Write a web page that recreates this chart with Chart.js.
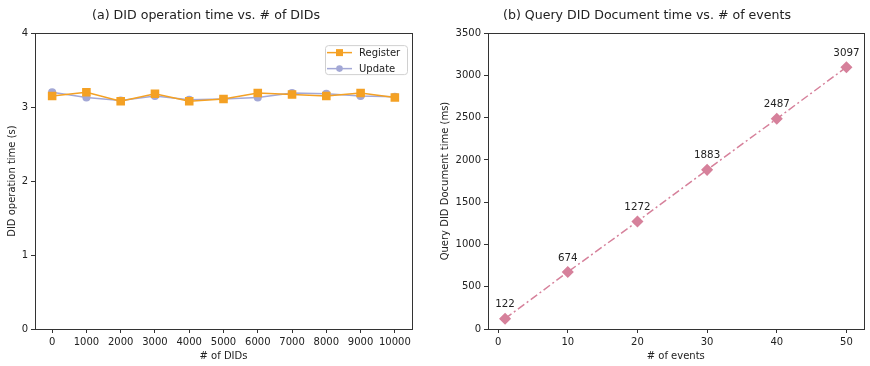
<!DOCTYPE html>
<html>
<head>
<meta charset="utf-8">
<script src="https://cdn.jsdelivr.net/npm/chart.js@4.4.1/dist/chart.umd.min.js"></script>
<style>
  body { margin: 0; background: #fff; }
  .box { position: absolute; top: 0; height: 366px; }
  #left { left: 0; width: 430px; }
  #right { left: 430px; width: 440px; }
</style>
</head>
<body>
<div class="box" id="left"><canvas id="didChart"></canvas></div>
<div class="box" id="right"><canvas id="queryChart"></canvas></div>
<script>
// (a) DID operation time
const didCounts = [0, 1000, 2000, 3000, 4000, 5000, 6000, 7000, 8000, 9000, 10000];
const registerTime = [3.15, 3.20, 3.08, 3.18, 3.08, 3.11, 3.19, 3.17, 3.15, 3.19, 3.13];
const updateTime = [3.20, 3.13, 3.09, 3.15, 3.10, 3.11, 3.13, 3.19, 3.18, 3.15, 3.14];
const didYTicks = [0, 1, 2, 3, 4];

// (b) Query DID Document time
const eventCounts = [1, 10, 20, 30, 40, 50];
const queryTime = [122, 674, 1272, 1883, 2487, 3097];
const eventXTicks = [0, 10, 20, 30, 40, 50];
const queryYTicks = [0, 500, 1000, 1500, 2000, 2500, 3000, 3500];

const ORANGE = "#f4a124";
const LAVENDER = "#a3a8d6";
const PINK = "#d6819b";
const INK = "#222";
const FONT = "'DejaVu Sans', sans-serif";

Chart.defaults.font.family = FONT;
Chart.defaults.color = INK;
Chart.defaults.animation = false;

const toPoints = (xs, ys) => xs.map((x, i) => ({ x: x, y: ys[i] }));

// matplotlib style frame on all four sides
const framePlugin = {
  id: "frame",
  afterDraw(chart) {
    const a = chart.chartArea, ctx = chart.ctx;
    ctx.save();
    ctx.strokeStyle = "#333";
    ctx.lineWidth = 1;
    ctx.strokeRect(Math.round(a.left) + 0.5, Math.round(a.top) + 0.5,
      Math.round(a.right - a.left), Math.round(a.bottom - a.top));
    ctx.restore();
  }
};

// legend box in the upper right of the plot, line + marker samples
const innerLegend = {
  id: "innerLegend",
  afterDraw(chart) {
    const a = chart.chartArea, ctx = chart.ctx;
    const x = a.right - 87, y = a.top + 12, w = 82, h = 29;
    ctx.save();
    ctx.fillStyle = "rgba(255,255,255,0.8)";
    ctx.strokeStyle = "#d0d0d0";
    ctx.lineWidth = 1;
    ctx.beginPath();
    ctx.roundRect(x + 0.5, y + 0.5, w, h, 3);
    ctx.fill();
    ctx.stroke();
    chart.data.datasets.forEach((ds, i) => {
      const cy = y + 7.5 + i * 16;
      ctx.strokeStyle = ds.borderColor;
      ctx.lineWidth = 1.5;
      ctx.beginPath();
      ctx.moveTo(x + 2, cy);
      ctx.lineTo(x + 27, cy);
      ctx.stroke();
      ctx.fillStyle = ds.borderColor;
      if (ds.pointStyle === "rect") {
        ctx.fillRect(x + 11, cy - 3.5, 7, 7);
      } else {
        ctx.beginPath();
        ctx.arc(x + 14.5, cy, 3.3, 0, Math.PI * 2);
        ctx.fill();
      }
      ctx.fillStyle = INK;
      ctx.font = "10px " + FONT;
      ctx.textBaseline = "middle";
      ctx.fillText(ds.label, x + 34, cy + 0.5);
    });
    ctx.restore();
  }
};

// value labels above each point
const valueLabels = {
  id: "valueLabels",
  afterDatasetsDraw(chart) {
    const ctx = chart.ctx;
    const meta = chart.getDatasetMeta(0);
    ctx.save();
    ctx.fillStyle = INK;
    ctx.font = "10.3px " + FONT;
    ctx.textAlign = "center";
    ctx.textBaseline = "bottom";
    meta.data.forEach((pt, i) => {
      ctx.fillText(String(queryTime[i]), pt.x, pt.y - 9);
    });
    ctx.restore();
  }
};

function axisTitle(text, pad) {
  return { display: true, text: text, font: { size: 10 }, color: INK, padding: pad };
}

function fixedTicks(values) {
  return function (axis) {
    axis.ticks = values.map(v => ({ value: v }));
  };
}

const tickStyle = { font: { size: 10 }, color: INK, padding: 3 };
const gridStyle = { drawOnChartArea: false, drawTicks: true, tickLength: 4, tickColor: "#333" };

new Chart(document.getElementById("didChart"), {
  type: "line",
  data: {
    datasets: [{
      label: "Register",
      data: toPoints(didCounts, registerTime),
      borderColor: ORANGE,
      backgroundColor: ORANGE,
      borderWidth: 1.5,
      pointStyle: "rect",
      pointRadius: 5,
      pointHoverRadius: 5
    }, {
      label: "Update",
      data: toPoints(didCounts, updateTime),
      borderColor: LAVENDER,
      backgroundColor: LAVENDER,
      borderWidth: 1.5,
      pointStyle: "circle",
      pointRadius: 3.3,
      pointHoverRadius: 3.3
    }]
  },
  options: {
    responsive: true,
    maintainAspectRatio: false,
    layout: { padding: { top: 0, right: 18, bottom: 0, left: 0 } },
    plugins: {
      legend: { display: false },
      tooltip: { enabled: false },
      title: {
        display: true,
        text: "(a) DID operation time vs. # of DIDs",
        font: { size: 12.6, weight: "normal" },
        color: INK,
        padding: { top: 8.5, bottom: 9.5 }
      }
    },
    scales: {
      x: {
        type: "linear",
        min: -500,
        max: 10500,
        afterBuildTicks: fixedTicks(didCounts),
        afterFit(axis) { axis.height = 37; },
        ticks: Object.assign({ callback: v => String(v), maxRotation: 0, autoSkip: false }, tickStyle),
        grid: gridStyle,
        border: { color: "#333" },
        title: axisTitle("# of DIDs", { top: 0, bottom: 4 })
      },
      y: {
        min: 0,
        max: 4,
        afterBuildTicks: fixedTicks(didYTicks),
        afterFit(axis) { axis.width = 35; },
        ticks: tickStyle,
        grid: gridStyle,
        border: { color: "#333" },
        title: axisTitle("DID operation time (s)", { top: 6, bottom: 0 })
      }
    }
  },
  plugins: [framePlugin, innerLegend]
});

new Chart(document.getElementById("queryChart"), {
  type: "line",
  data: {
    datasets: [{
      label: "Query DID Document time",
      data: toPoints(eventCounts, queryTime),
      borderColor: PINK,
      backgroundColor: PINK,
      borderWidth: 1.5,
      borderDash: [8, 3, 2, 3],
      pointStyle: "rectRot",
      pointRadius: 5,
      pointHoverRadius: 5
    }]
  },
  options: {
    responsive: true,
    maintainAspectRatio: false,
    layout: { padding: { top: 0, right: 6, bottom: 0, left: 0 } },
    plugins: {
      legend: { display: false },
      tooltip: { enabled: false },
      title: {
        display: true,
        text: "(b) Query DID Document time vs. # of events",
        font: { size: 12.6, weight: "normal" },
        color: INK,
        padding: { top: 8.5, bottom: 9.5 }
      }
    },
    scales: {
      x: {
        type: "linear",
        min: -1.45,
        max: 52.45,
        afterBuildTicks: fixedTicks(eventXTicks),
        afterFit(axis) { axis.height = 37; },
        ticks: Object.assign({ maxRotation: 0, autoSkip: false }, tickStyle),
        grid: gridStyle,
        border: { color: "#333" },
        title: axisTitle("# of events", { top: 0, bottom: 4 })
      },
      y: {
        min: 0,
        max: 3500,
        afterBuildTicks: fixedTicks(queryYTicks),
        afterFit(axis) { axis.width = 58; },
        ticks: Object.assign({ callback: v => String(v) }, tickStyle),
        grid: gridStyle,
        border: { color: "#333" },
        title: axisTitle("Query DID Document time (ms)", { top: 9, bottom: 0 })
      }
    }
  },
  plugins: [framePlugin, valueLabels]
});
</script>
</body>
</html>
